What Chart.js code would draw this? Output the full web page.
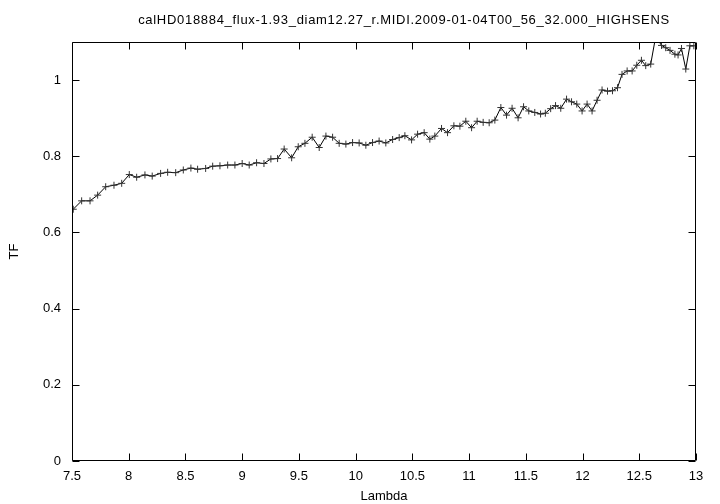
<!DOCTYPE html>
<html>
<head>
<meta charset="utf-8">
<script src="https://cdn.jsdelivr.net/npm/chart.js@4.4.1/dist/chart.umd.min.js"></script>
<style>
  html, body { margin: 0; padding: 0; background: #fff; }
  #wrap { width: 720px; height: 504px; }
</style>
</head>
<body>
<div id="wrap"><canvas id="c" width="720" height="504"></canvas></div>
<script>
const chartTitle = "calHD018884_flux-1.93_diam12.27_r.MIDI.2009-01-04T00_56_32.000_HIGHSENS";
const xLabel = "Lambda";
const yLabel = "TF";
const xTicks = [7.5, 8, 8.5, 9, 9.5, 10, 10.5, 11, 11.5, 12, 12.5, 13];
const yTicks = [0, 0.2, 0.4, 0.6, 0.8, 1];

const lambda = [
  7.511, 7.585, 7.659, 7.726, 7.797, 7.870, 7.938, 8.005, 8.070, 8.143,
  8.207, 8.281, 8.343, 8.414, 8.481, 8.548, 8.607, 8.678, 8.740, 8.804,
  8.872, 8.936, 9.000, 9.062, 9.127, 9.192, 9.253, 9.312, 9.370, 9.436,
  9.494, 9.553, 9.617, 9.679, 9.738, 9.797, 9.855, 9.914, 9.973, 10.031,
  10.090, 10.149, 10.207, 10.266, 10.326, 10.384, 10.434, 10.493, 10.546, 10.604,
  10.654, 10.698, 10.757, 10.810, 10.866, 10.919, 10.971, 11.022, 11.071, 11.124,
  11.177, 11.227, 11.280, 11.330, 11.379, 11.432, 11.480, 11.526, 11.579, 11.630,
  11.672, 11.719, 11.762, 11.808, 11.859, 11.903, 11.949, 11.996, 12.040, 12.084,
  12.128, 12.172, 12.220, 12.264, 12.308, 12.348, 12.393, 12.437, 12.478, 12.519,
  12.557, 12.601, 12.645, 12.696, 12.733, 12.771, 12.814, 12.842, 12.872, 12.910,
  12.946, 12.981
];
const tf = [
  0.661, 0.683, 0.683, 0.698, 0.720, 0.724, 0.729, 0.752, 0.745, 0.751,
  0.748, 0.755, 0.758, 0.757, 0.764, 0.769, 0.766, 0.768, 0.774, 0.775,
  0.777, 0.777, 0.781, 0.777, 0.783, 0.781, 0.793, 0.794, 0.819, 0.796,
  0.825, 0.834, 0.850, 0.823, 0.853, 0.850, 0.834, 0.832, 0.836, 0.835,
  0.829, 0.836, 0.840, 0.835, 0.844, 0.849, 0.854, 0.843, 0.858, 0.862,
  0.845, 0.853, 0.873, 0.862, 0.880, 0.879, 0.892, 0.875, 0.892, 0.889,
  0.888, 0.895, 0.928, 0.908, 0.926, 0.901, 0.930, 0.919, 0.915, 0.911,
  0.913, 0.925, 0.933, 0.926, 0.950, 0.943, 0.937, 0.919, 0.937, 0.919,
  0.947, 0.974, 0.971, 0.972, 0.980, 1.015, 1.024, 1.024, 1.039, 1.052,
  1.038, 1.042, 1.115, 1.091, 1.085, 1.078, 1.068, 1.066, 1.083, 1.029,
  1.090, 1.090
];

const FONT = "'Liberation Sans', Arial, Helvetica, sans-serif";

const framePlugin = {
  id: 'frame',
  afterDraw(chart) {
    const ctx = chart.ctx;
    const a = chart.chartArea;
    const xs = chart.scales.x, ys = chart.scales.y;
    const L = Math.round(a.left) + 0.5, R = Math.round(a.right) - 0.5;
    const T = Math.round(a.top) + 0.5, B = Math.round(a.bottom) - 0.5;
    ctx.save();
    ctx.strokeStyle = '#000';
    ctx.lineWidth = 1;
    ctx.beginPath();
    ctx.rect(L, T, R - L, B - T);
    const tl = 7;
    xTicks.forEach(v => {
      const px = Math.round(xs.getPixelForValue(v)) + 0.5;
      ctx.moveTo(px, B); ctx.lineTo(px, B - tl);
      ctx.moveTo(px, T); ctx.lineTo(px, T + tl);
    });
    yTicks.forEach(v => {
      const py = Math.round(ys.getPixelForValue(v)) + 0.5;
      ctx.moveTo(L, py); ctx.lineTo(L + tl, py);
      ctx.moveTo(R, py); ctx.lineTo(R - tl, py);
    });
    ctx.stroke();
    // title
    ctx.fillStyle = '#000';
    ctx.font = '13px ' + FONT;
    ctx.letterSpacing = '0.7px';
    ctx.textAlign = 'center';
    ctx.textBaseline = 'middle';
    ctx.fillText(chartTitle, 404, 20);
    ctx.restore();
  }
};

new Chart(document.getElementById('c'), {
  type: 'line',
  data: {
    datasets: [{
      data: lambda.map((x, i) => ({ x: x, y: tf[i] })),
      borderColor: '#000',
      borderWidth: 1,
      pointStyle: 'cross',
      pointRadius: 3.5,
      pointBorderColor: '#333',
      pointBorderWidth: 1,
      pointBackgroundColor: '#333',
      tension: 0,
      fill: false
    }]
  },
  options: {
    responsive: false,
    animation: false,
    devicePixelRatio: 1,
    layout: { padding: { top: 42, right: 24, left: 0, bottom: 0 } },
    plugins: { legend: { display: false }, tooltip: { enabled: false }, title: { display: false } },
    scales: {
      x: {
        type: 'linear', min: 7.5, max: 13,
        afterBuildTicks: s => { s.ticks = xTicks.map(v => ({ value: v })); },
        afterFit: s => { s.height = 43; },
        grid: { display: false, drawTicks: false },
        border: { display: false },
        ticks: { color: '#000', padding: 8, font: { family: FONT, size: 13 }, callback: v => String(v), maxRotation: 0, autoSkip: false },
        title: { display: true, text: xLabel, color: '#000', font: { family: FONT, size: 13 }, padding: { top: 0, bottom: 0 } }
      },
      y: {
        type: 'linear', min: 0, max: 1.1,
        afterBuildTicks: s => { s.ticks = yTicks.map(v => ({ value: v })); },
        afterFit: s => { s.width = 72; },
        grid: { display: false, drawTicks: false },
        border: { display: false },
        ticks: { color: '#000', padding: 11, font: { family: FONT, size: 13 }, callback: v => String(v), autoSkip: false },
        title: { display: true, text: yLabel, color: '#000', font: { family: FONT, size: 13 }, padding: { top: 7, bottom: 0 } }
      }
    }
  },
  plugins: [framePlugin]
});
</script>
</body>
</html>
